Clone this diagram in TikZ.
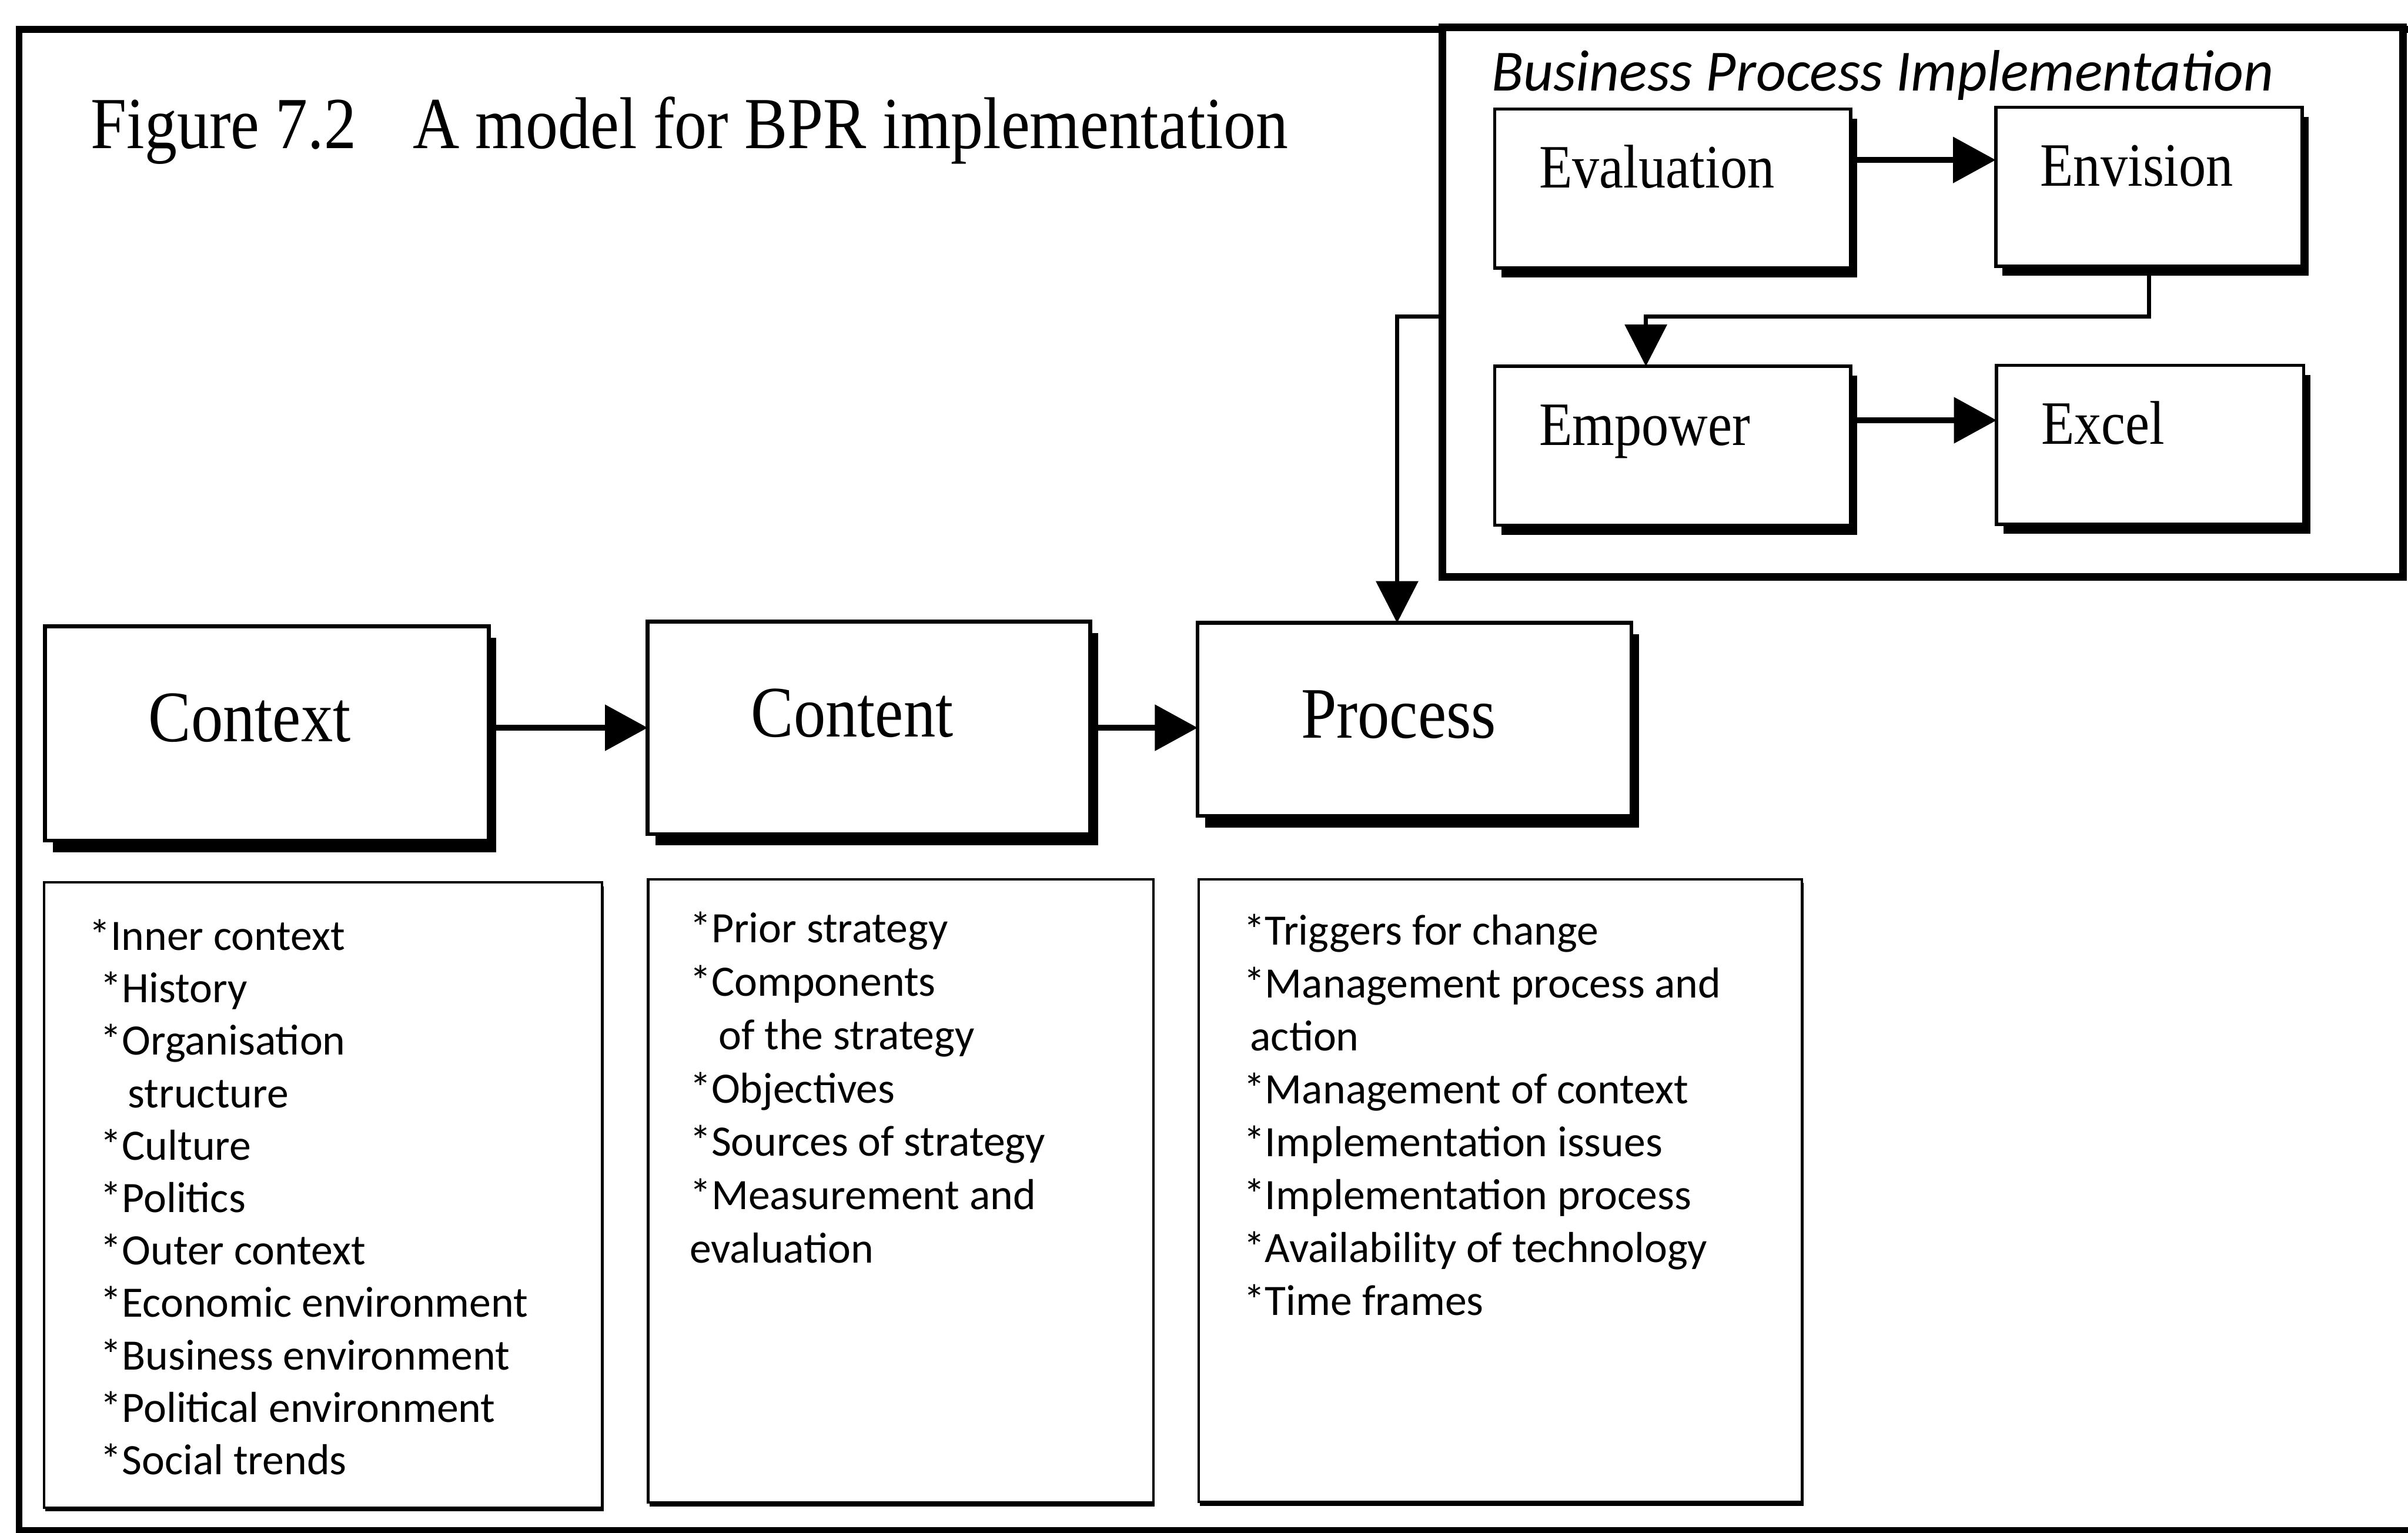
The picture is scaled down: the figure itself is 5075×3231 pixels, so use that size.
\documentclass[tikz,border=0pt]{standalone}
\usepackage{fontspec}
\newfontfamily\serifn[FakeStretch=0.88]{Liberation Serif}
\newfontfamily\listfont{Carlito}
\usepackage{tikz}
\usetikzlibrary{arrows.meta, calc, shadows}

\begin{document}
\begin{tikzpicture}[x=0.1mm, y=-0.1mm,
  stage/.style={draw, fill=white, line width=0.8mm, inner sep=0, outer sep=0,
    inner xsep=21.8mm, align=left, text height=24.3mm, anchor=north west,
    font=\serifn\fontsize{43.5}{44}\selectfont,
    drop shadow={shadow xshift=1.6mm, shadow yshift=-2.4mm, opacity=1, fill=black}},
  phase/.style={draw, fill=white, line width=0.7mm, inner sep=0, outer sep=0,
    inner xsep=9.4mm, align=left, text height=16.6mm, text depth=16.9mm, anchor=north west,
    font=\serifn\fontsize{37}{38}\selectfont,
    drop shadow={shadow xshift=1.4mm, shadow yshift=-2mm, opacity=1, fill=black}},
  listbox/.style={draw, fill=white, line width=0.5mm, inner sep=0, outer sep=0, anchor=north west,
    drop shadow={shadow xshift=0.3mm, shadow yshift=-0.8mm, opacity=1, fill=black}},
  item/.style={anchor=base west, inner sep=0, font=\listfont\fontsize{26}{27}\selectfont},
  flow/.style={line width=1.2mm, -{Triangle[length=9mm, width=9.5mm]}},
  feed/.style={line width=0.8mm, -{Triangle[length=8.8mm, width=8.8mm]}}
]
  \clip (0,0) rectangle (5075,3231);
  \draw[line width=1.4mm] (40,62) rectangle (5200,3226);

  \node[anchor=base west, inner sep=0, font=\serifn\fontsize{44}{45}\selectfont] (title) at (191,313)
    {Figure 7.2\hspace{0.55em} A model for BPR implementation};

  \node[draw, fill=white, line width=1.6mm, inner sep=0, outer sep=0, anchor=north west,
    minimum width=202.4mm, minimum height=115.8mm,
    drop shadow={shadow xshift=0.6mm, shadow yshift=-0.8mm, opacity=1, fill=black}] (bpi) at (3040,58) {};
  \node[anchor=base west, inner sep=0, font=\listfont\itshape\fontsize{35}{36}\selectfont] (bpititle) at (3143,191)
    {Business Process Implementation};

  \node[phase, text width=56.2mm] (eval) at (3150,230) {Evaluation};
  \node[phase, text width=45.8mm] (envis) at (4206,226) {Envision};
  \node[phase, text width=56.2mm] (empow) at (3150,772) {Empower};
  \node[phase, text width=45.9mm] (excel) at (4208,770) {Excel};

  \node[stage, text width=49.9mm, text depth=20.9mm] (ctx) at (95,1320) {Context};
  \node[stage, text width=49.7mm, text depth=20.5mm] (cnt) at (1365,1310) {Content};
  \node[stage, text width=47.8mm, text depth=16.4mm] (prc) at (2524,1313) {Process};

  \node[listbox, minimum width=117.6mm, minimum height=131.8mm] (ctxbox) at (93,1860) {};
  \node[listbox, minimum width=106.5mm, minimum height=131.4mm] (cntbox) at (1366,1853) {};
  \node[listbox, minimum width=127.2mm, minimum height=131.3mm] (prcbox) at (2526,1853) {};

  \foreach \x/\lbl [count=\i] in {187/*Inner context, 211/*History, 211/*Organisation,
      269/structure, 211/*Culture, 211/*Politics, 211/*Outer context,
      211/*Economic environment, 211/*Business environment,
      211/*Political environment, 211/*Social trends}
    \node[item] (ctx\i) at (\x,{2003+110.5*(\i-1)}) {\lbl};
  \foreach \x/\lbl [count=\i] in {1453/*Prior strategy, 1453/*Components, 1514/of the strategy,
      1453/*Objectives, 1453/*Sources of strategy, 1453/*Measurement and, 1453/evaluation}
    \node[item] (cnt\i) at (\x,{1987+112.5*(\i-1)}) {\lbl};
  \foreach \x/\lbl [count=\i] in {2620/*Triggers for change, 2620/*Management process and,
      2634/action, 2620/*Management of context, 2620/*Implementation issues,
      2620/*Implementation process, 2620/*Availability of technology, 2620/*Time frames}
    \node[item] (prc\i) at (\x,{1992+111.4*(\i-1)}) {\lbl};

  \coordinate (evout) at ($(eval.north east)!0.32!(eval.south east)$);
  \coordinate (emout) at ($(empow.north east)!0.34!(empow.south east)$);
  \coordinate (emin) at ($(empow.north west)!0.425!(empow.north east)$);
  \coordinate (bpiout) at ($(bpi.north west)!0.526!(bpi.south west)$);
  \coordinate (prcin) at ($(prc.north west)!0.46!(prc.north east)$);

  \draw[flow] (evout) -- (evout -| envis.west);
  \draw[flow] (emout) -- (emout -| excel.west);
  \draw[feed] (envis.south) |- ([yshift=10.5mm]emin) -- (emin);
  \draw[feed] (bpiout) -| (prcin);
  \draw[flow] (ctx.east |- cnt.center) -- (cnt.west);
  \draw[flow] (cnt.east) -- (cnt.east -| prc.west);
\end{tikzpicture}
\end{document}
